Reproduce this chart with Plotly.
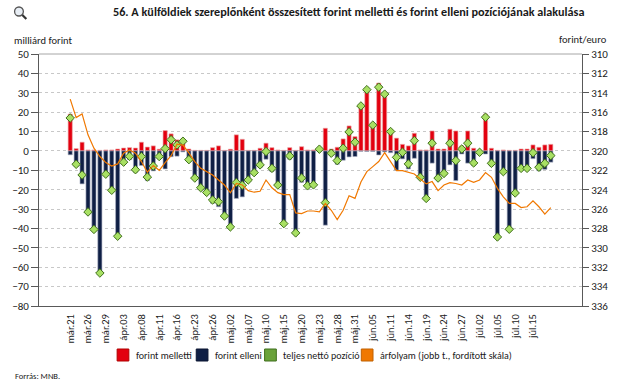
import plotly.graph_objects as go

dates = ["már.21","már.22","már.25","már.26","már.27","már.28","már.29","ápr.01","ápr.02","ápr.03",
         "ápr.04","ápr.05","ápr.08","ápr.09","ápr.10","ápr.11","ápr.12","ápr.15","ápr.16","ápr.17",
         "ápr.18","ápr.23","ápr.24","ápr.25","ápr.26","ápr.29","ápr.30","máj.02","máj.03","máj.06",
         "máj.07","máj.08","máj.09","máj.10","máj.13","máj.14","máj.15","máj.16","máj.17","máj.20",
         "máj.21","máj.22","máj.23","máj.24","máj.27","máj.28","máj.29","máj.30","máj.31","jún.03",
         "jún.04","jún.05","jún.06","jún.07","jún.11","jún.12","jún.13","jún.14","jún.17","jún.18",
         "jún.19","jún.20","jún.21","jún.24","jún.25","jún.26","jún.27","jún.28","júl.01","júl.02",
         "júl.03","júl.04","júl.05","júl.08","júl.09","júl.10","júl.11","júl.12","júl.15","júl.16",
         "júl.17","júl.18"]

tick_labels = ["már.21","már.26","már.29","ápr.03","ápr.08","ápr.11","ápr.16","ápr.23","ápr.26",
               "máj.02","máj.07","máj.10","máj.15","máj.20","máj.23","máj.28","máj.31","jún.05",
               "jún.11","jún.14","jún.19","jún.24","jún.27","júl.02","júl.05","júl.10","júl.15"]

forint_melletti = [19,1.2,4.5,0.5,0.5,0.3,0.5,0.5,1,1.5,
                   1.7,1.5,4.5,2,2.6,0.9,10.5,8.8,5.7,5.5,
                   1,0.3,0.3,0.3,1.7,2.6,0.3,0.9,8.3,6,
                   0.3,0.3,1.4,4,1.7,0.5,0.3,1.7,0.3,2.2,
                   0.5,0.5,1,11.7,1,1.9,6.2,12.9,7.4,23.4,
                   31.9,13.6,35,29.8,10.9,6.6,3.4,2.6,9.1,0.5,
                   0.5,10.3,1,1,11.2,10.3,2.6,10.3,1.4,0.3,
                   19,1.4,0.3,0.5,0.3,0.3,1,1,3.1,1.9,
                   3.1,3.4]

forint_elleni = [-2,-8,-17,-32,-41,-63.3,-12.8,-21,-45,-7,
                 -4.5,-11,-7.5,-15.3,-10.3,-3.8,-9.3,-3,-2.7,-0.5,
                 -5.5,-14.3,-19.3,-21.8,-27,-28.8,-34,-40,-24.5,-23.7,
                 -15.3,-11.5,-8.6,-4.3,-10.7,-18.1,-37.8,-4.3,-42.6,-16.2,
                 -18.5,-18,-0.2,-38.3,-2.2,-6.9,-4.8,-3.1,-2.9,-0.2,
                 -0.3,-0.3,-2.1,-0.5,-0.9,-9.9,-4.1,-9.3,-3.8,-14.1,
                 -25,-6.3,-15,-12.6,-7.2,-15.3,-1.6,-6.3,-7.6,-1,
                 -1.6,-7.8,-44.7,-11.2,-40.7,-22,-10,-10,-4,-10.3,
                 -9.5,-5.8]

netto = [17,-6.9,-12.4,-31.5,-40.5,-63,-12,-20.3,-44,-5.8,
         -2.8,-9.7,-2.9,-13.5,-7.8,-2.9,1.2,5.8,3.1,5,
         -4.5,-14,-19,-21.4,-25.3,-26.2,-33.6,-39.2,-16.3,-17.7,
         -15,-11.2,-7.2,-0.3,-9,-17.6,-37.5,-2.6,-42.3,-14,
         -18,-17.5,0.9,-26.7,-1.2,-5,1.4,9.8,4.5,23.2,
         31.6,13.3,32.9,29.3,10,-3.3,-0.7,-6.7,5.3,-13.6,
         -24.5,4,-14,-11.6,4,-5,1,4,-6.2,-0.7,
         17.4,-6.4,-44.4,-10.7,-40.4,-21.7,-9,-9,-0.9,-8.4,
         -6.4,-2.4]

arfolyam = [314.66,316.56,316.18,318.34,319.72,320.58,321.2,321.56,321.34,320.24,
            319.9,320.24,321.1,322.2,321.5,322.0,321.2,320.5,319.3,319.4,
            320.2,321.1,321.8,322.14,322.48,323.0,323.52,324.32,323.36,323.52,
            324.1,324.26,324.16,323.0,323.8,324.3,324.5,324.5,326.4,326.46,
            326.2,326.2,326.28,325.42,326.12,327.08,326.12,324.62,324.9,323.2,
            322.14,321.62,321.1,320.18,321.1,322.04,322.04,322.24,322.38,322.9,
            323.4,323.16,324.1,323.52,323.28,323.36,323.52,323.0,323.24,323.0,
            322.24,322.72,323.86,324.74,325.42,325.42,325.84,325.76,325.16,325.76,
            326.52,325.84]

RED = "#e3000f"
NAVY = "#0f1f45"
GREEN_M = "#a8e063"
GREEN_L = "#3f6e1c"
GREEN_LEG = "#6aa23a"
ORANGE = "#f07800"
FONT = "Carlito, Lato, sans-serif"

fig = go.Figure()
fig.add_trace(go.Bar(x=dates, y=forint_melletti, marker_color=RED,
                     marker_line=dict(color="rgba(235,170,170,0.9)", width=0.7),
                     showlegend=False))
fig.add_trace(go.Bar(x=dates, y=forint_elleni, marker_color=NAVY,
                     marker_line=dict(color="rgba(170,175,195,0.9)", width=0.7),
                     showlegend=False))
fig.add_trace(go.Scatter(x=dates, y=netto, mode="markers",
                         marker=dict(symbol="diamond", size=6.5, color=GREEN_M,
                                     line=dict(color=GREEN_L, width=1)),
                         showlegend=False))
fig.add_trace(go.Scatter(x=dates, y=arfolyam, mode="lines", yaxis="y2",
                         line=dict(color=ORANGE, width=1.2), showlegend=False))

W, H = 620, 383
L, R, T, B = 29, 35, 54, 77
pw, ph = W - L - R, H - T - B

def px(x):
    return (x - L) / pw

def py(y):
    return (H - B - y) / ph

fig.update_layout(
    width=W, height=H, autosize=False,
    margin=dict(l=L, r=R, t=T, b=B, pad=0),
    paper_bgcolor="white", plot_bgcolor="white",
    barmode="relative", bargap=0.3,
    font=dict(family=FONT, size=11, color="#1a1a1a"),
    showlegend=False,
    xaxis=dict(type="category", tickmode="array", tickvals=tick_labels, ticktext=tick_labels,
               tickangle=-90, tickfont=dict(size=10.5), showline=True, linecolor="#595959",
               linewidth=1, showgrid=False, ticks="outside", ticklen=3, tickcolor="white",
               zeroline=False),
    yaxis=dict(range=[-80, 50], dtick=10, showline=True, linecolor="#595959", linewidth=1,
               ticks="outside", ticklen=7, tickcolor="#595959", showgrid=True,
               gridcolor="#c8c8c8", griddash="dot", gridwidth=1, zeroline=False,
               tickfont=dict(size=11)),
    yaxis2=dict(range=[336, 310], dtick=2, overlaying="y", side="right", showline=True,
                linecolor="#595959", linewidth=1, ticks="outside", ticklen=6,
                tickcolor="#595959", showgrid=False, zeroline=False, tickfont=dict(size=11)),
)

shapes = [dict(type="line", xref="paper", yref="paper", x0=0, x1=1, y0=1, y1=1,
               line=dict(color="#a6a6a6", width=1))]
annotations = [
    dict(text="<b>56. A külföldiek szereplőnként összesített forint melletti és forint elleni pozíciójának alakulása</b>",
         xref="paper", yref="paper", x=px(346), y=py(12), xanchor="center", yanchor="middle",
         showarrow=False, font=dict(size=12.2, color="#1a1a1a")),
    dict(text="milliárd forint", xref="paper", yref="paper", x=px(1), y=py(41),
         xanchor="left", yanchor="middle", showarrow=False, font=dict(size=10.5)),
    dict(text="forint/euro", xref="paper", yref="paper", x=px(613), y=py(40),
         xanchor="right", yanchor="middle", showarrow=False, font=dict(size=10.5)),
    dict(text="Forrás: MNB.", xref="paper", yref="paper", x=px(2), y=py(376),
         xanchor="left", yanchor="middle", showarrow=False, font=dict(size=8.5)),
]

# magnifier icon
shapes.append(dict(type="circle", xref="paper", yref="paper", x0=px(4), x1=px(13), y0=py(7), y1=py(16),
                   line=dict(color="#555555", width=1.3), fillcolor="#e8eef5"))
shapes.append(dict(type="line", xref="paper", yref="paper", x0=px(12), x1=px(16), y0=py(15), y1=py(19),
                   line=dict(color="#333333", width=2.2)))

legend_items = [
    (109, "forint melletti", RED, "#b00000"),
    (190, "forint elleni", NAVY, "#0a1530"),
    (260, "teljes nettó pozíció", GREEN_LEG, "#3f6e1c"),
    (359, "árfolyam (jobb t., fordított skála)", ORANGE, "#c06000"),
]
ly = 355
for x0, label, col, edge in legend_items:
    shapes.append(dict(type="rect", xref="paper", yref="paper", x0=px(x0), x1=px(x0 + 12),
                       y0=py(ly + 6), y1=py(ly - 6), fillcolor=col, line=dict(color=edge, width=1)))
    annotations.append(dict(text=label, xref="paper", yref="paper", x=px(x0 + 17), y=py(ly),
                            xanchor="left", yanchor="middle", showarrow=False,
                            font=dict(size=10)))

fig.update_layout(shapes=shapes, annotations=annotations)
fig.write_html("out.html", config={"displayModeBar": False},
               post_script="document.body.style.margin='0px';document.body.style.overflow='hidden';")
